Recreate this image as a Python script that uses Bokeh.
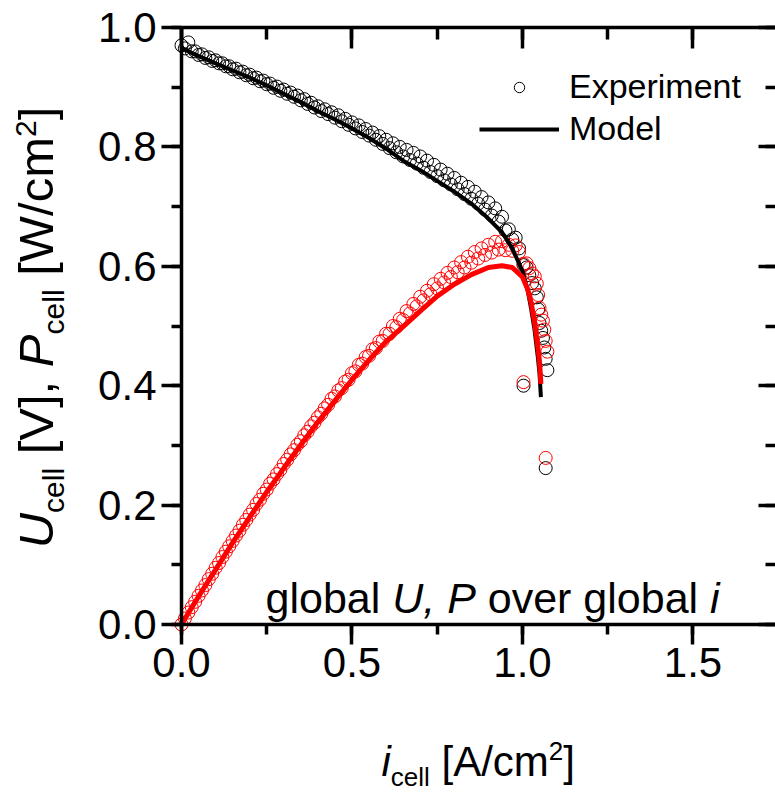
import math
from bokeh.plotting import figure
from bokeh.models import (Range1d, LinearAxis, SingleIntervalTicker, NumeralTickFormatter,
                          CustomJSTickFormatter, Label, Legend, LegendItem)
from bokeh.embed import file_html
from bokeh.resources import INLINE

# ---------------- data ----------------
i_exp = [0.00, 0.01, 0.02, 0.03, 0.04, 0.05, 0.06, 0.07, 0.08, 0.09,
         0.10, 0.11, 0.12, 0.13, 0.14, 0.15, 0.16, 0.17, 0.18, 0.19,
         0.20, 0.21, 0.22, 0.23, 0.24, 0.25, 0.26, 0.27, 0.28, 0.29,
         0.30, 0.31, 0.32, 0.33, 0.34, 0.35, 0.36, 0.37, 0.38, 0.39,
         0.40, 0.41, 0.42, 0.43, 0.44, 0.45, 0.46, 0.47, 0.48, 0.49,
         0.50, 0.51, 0.52, 0.53, 0.54, 0.55, 0.56, 0.57, 0.58, 0.59,
         0.60, 0.61, 0.62, 0.63, 0.64, 0.65, 0.66, 0.67, 0.68, 0.69,
         0.70, 0.71, 0.72, 0.73, 0.74, 0.75, 0.76, 0.77, 0.78, 0.79,
         0.80, 0.81, 0.82, 0.83, 0.84, 0.85, 0.86, 0.87, 0.88, 0.89,
         0.90, 0.91, 0.92, 0.93, 0.94, 0.95, 0.96, 0.97, 0.98, 0.99,
         1.003, 1.012, 1.020, 1.028, 1.036, 1.042, 1.046, 1.050, 1.055, 1.060,
         1.064, 1.068, 1.073, 1.003, 1.068]

U_exp = [0.970, 0.965, 0.975, 0.960, 0.960, 0.954, 0.955, 0.949, 0.950, 0.944,
         0.945, 0.940, 0.940, 0.935, 0.935, 0.930, 0.931, 0.925, 0.926, 0.920,
         0.921, 0.915, 0.916, 0.910, 0.911, 0.905, 0.906, 0.899, 0.901, 0.894,
         0.896, 0.889, 0.891, 0.884, 0.886, 0.878, 0.880, 0.872, 0.874, 0.866,
         0.868, 0.860, 0.863, 0.855, 0.858, 0.849, 0.853, 0.843, 0.847, 0.837,
         0.841, 0.831, 0.836, 0.825, 0.830, 0.819, 0.824, 0.812, 0.818, 0.805,
         0.812, 0.798, 0.806, 0.791, 0.800, 0.784, 0.795, 0.778, 0.790, 0.772,
         0.784, 0.765, 0.777, 0.758, 0.770, 0.751, 0.762, 0.744, 0.755, 0.737,
         0.748, 0.729, 0.740, 0.721, 0.733, 0.713, 0.725, 0.705, 0.716, 0.695,
         0.707, 0.685, 0.697, 0.675, 0.683, 0.660, 0.662, 0.645, 0.648, 0.630,
         0.602, 0.598, 0.585, 0.572, 0.563, 0.548, 0.528, 0.505, 0.492, 0.480,
         0.464, 0.445, 0.426, 0.400, 0.262]

P_exp = [0.000, 0.010, 0.020, 0.029, 0.038, 0.048, 0.057, 0.066, 0.076, 0.085,
         0.095, 0.103, 0.113, 0.122, 0.131, 0.140, 0.149, 0.157, 0.167, 0.175,
         0.184, 0.192, 0.202, 0.209, 0.219, 0.226, 0.236, 0.243, 0.252, 0.259,
         0.269, 0.276, 0.285, 0.292, 0.301, 0.307, 0.317, 0.323, 0.332, 0.338,
         0.347, 0.353, 0.362, 0.368, 0.378, 0.382, 0.392, 0.396, 0.407, 0.410,
         0.421, 0.424, 0.435, 0.437, 0.448, 0.450, 0.461, 0.463, 0.474, 0.475,
         0.487, 0.487, 0.500, 0.498, 0.512, 0.510, 0.525, 0.521, 0.537, 0.533,
         0.549, 0.543, 0.559, 0.553, 0.570, 0.563, 0.579, 0.573, 0.589, 0.582,
         0.598, 0.590, 0.607, 0.598, 0.616, 0.606, 0.624, 0.613, 0.630, 0.619,
         0.636, 0.623, 0.641, 0.628, 0.642, 0.627, 0.636, 0.626, 0.635, 0.624,
         0.604, 0.605, 0.597, 0.588, 0.583, 0.571, 0.552, 0.530, 0.519, 0.509,
         0.494, 0.475, 0.457, 0.406, 0.279]

i_model = [0.00, 0.02, 0.05, 0.10, 0.15, 0.20, 0.25, 0.30, 0.35, 0.40,
           0.45, 0.50, 0.55, 0.60, 0.65, 0.70, 0.75, 0.80, 0.85, 0.90,
           0.94, 0.97, 1.00, 1.015, 1.025, 1.035, 1.045, 1.050, 1.054]
U_model = [0.966, 0.960, 0.952, 0.940, 0.928, 0.916, 0.903, 0.889, 0.875, 0.860,
           0.846, 0.831, 0.815, 0.797, 0.777, 0.761, 0.743, 0.725, 0.705, 0.680,
           0.657, 0.630, 0.592, 0.560, 0.530, 0.495, 0.448, 0.420, 0.381]
P_model = [0.000, 0.019, 0.047, 0.092, 0.137, 0.180, 0.222, 0.262, 0.301, 0.339,
           0.375, 0.410, 0.443, 0.474, 0.499, 0.525, 0.550, 0.570, 0.586, 0.598,
           0.601, 0.598, 0.582, 0.562, 0.540, 0.508, 0.465, 0.440, 0.403]

x_ticks_interval = 0.5
y_ticks_interval = 0.2
X_MAX = 1.742
Y_MAX = 1.0

# ---------------- figure ----------------
# The frame covers the whole canvas so that the composed titles outside the
# axes are not clipped; axes are pinned with fixed_location.
W, H = 775, 793
PX_L, PX_B, PX_T = 181, 169, 27          # axes box offsets in px
sx = (W - PX_L) / X_MAX                  # px per x unit
sy = (H - PX_B - PX_T) / Y_MAX           # px per y unit
FONT = "Liberation Sans"
p = figure(width=W, height=H,
           x_range=Range1d(-PX_L / sx, X_MAX),
           y_range=Range1d(-PX_B / sy, Y_MAX + PX_T / sy),
           output_backend="svg", toolbar_location=None,
           x_axis_location=None, y_axis_location=None,
           min_border=0)
p.outline_line_color = None
p.grid.visible = False
p.background_fill_color = "white"
p.border_fill_color = "white"

AXW = 3.5


def make_axis(interval, shown, loc, bounds, tick_out, tick_in, mtick_out, mtick_in, standoff=5):
    ax = LinearAxis(ticker=SingleIntervalTicker(interval=interval, num_minor_ticks=2),
                    fixed_location=loc, bounds=bounds)
    ax.axis_line_width = AXW
    ax.axis_line_color = "black"
    ax.major_tick_line_width = AXW
    ax.minor_tick_line_width = AXW
    ax.major_tick_line_color = "black"
    ax.minor_tick_line_color = "black"
    ax.major_tick_out = tick_out
    ax.major_tick_in = tick_in
    ax.minor_tick_out = mtick_out
    ax.minor_tick_in = mtick_in
    if shown:
        ax.formatter = NumeralTickFormatter(format="0.0")
        ax.major_label_text_font = FONT
        ax.major_label_text_font_size = "42px"
        ax.major_label_text_color = "black"
        ax.major_label_standoff = standoff
    else:
        ax.formatter = CustomJSTickFormatter(code="return ''")
        ax.major_label_text_font_size = "1px"
        ax.major_label_standoff = 0
    return ax


bottom = make_axis(x_ticks_interval, True, 0, (0, X_MAX), 20, 0, 10, 0, standoff=3)
left = make_axis(y_ticks_interval, True, 0, (0, Y_MAX), 20, 0, 10, 0, standoff=5)
top = make_axis(x_ticks_interval, False, Y_MAX, (0, X_MAX), 0, 21, 0, 12)
right = make_axis(y_ticks_interval, False, X_MAX, (0, Y_MAX), 0, 17, 0, 10)
right.axis_line_color = None
p.add_layout(bottom, "below")
p.add_layout(left, "left")
p.add_layout(top, "above")
p.add_layout(right, "right")

# ---------------- data marks ----------------
r_u = p.scatter(i_exp, U_exp, marker="circle", size=13, fill_color=None,
                line_color="black", line_width=1)
r_p = p.scatter(i_exp, P_exp, marker="circle", size=13, fill_color=None,
                line_color="red", line_width=1)
r_um = p.line(i_model, U_model, line_color="black", line_width=4)
r_pm = p.line(i_model, P_model, line_color="red", line_width=5)

legend = Legend(items=[LegendItem(label="Experiment", renderers=[r_u]),
                       LegendItem(label="Model", renderers=[r_um])],
                location=(479, 645), glyph_width=80, glyph_height=26,
                label_standoff=10, padding=10, spacing=3,
                border_line_color=None, background_fill_alpha=0,
                label_text_font=FONT, label_text_font_size="34px",
                label_text_color="black")
p.add_layout(legend)

# ---------------- rich text labels ----------------
ADV = {' ': 278, '[': 278, ']': 278, ',': 278, '/': 278, 'A': 667, 'P': 667,
       'U': 722, 'V': 667, 'W': 944, 'a': 556, 'b': 556, 'c': 500, 'e': 556,
       'g': 556, 'i': 222, 'l': 222, 'm': 833, 'o': 556, 'r': 333, 'v': 500,
       '2': 556}
DESC = 0.21


def tw(s, size):
    return sum(ADV.get(c, 556) for c in s) / 1000.0 * size


def rich(pieces, x, y, vertical=False, center=False):
    """x, y: baseline start in canvas px (x right, y up from canvas bottom).
    With center=True the run is centred on (x, y) along its direction."""
    total = sum(tw(t, s) for t, s, _, _ in pieces)
    pos = -total / 2 if center else 0.0
    for text, size, italic, shift in pieces:
        stripped = text.lstrip(" ")
        lead = tw(text[:len(text) - len(stripped)], size)
        stripped = stripped.rstrip(" ")
        if stripped:
            if vertical:
                lx, ly, ang = x + shift + DESC * size, y + pos + lead, math.pi / 2
            else:
                lx, ly, ang = x + pos + lead, y - shift - DESC * size, 0
            p.add_layout(Label(x=lx, y=ly, x_units="screen", y_units="screen",
                               text=stripped, angle=ang,
                               text_font=FONT, text_font_size=f"{size}px",
                               text_font_style="italic" if italic else "normal",
                               text_align="left", text_baseline="bottom",
                               text_color="black"))
        pos += tw(text, size)


F_T, S_T = 42, 26
rich([("i", F_T, True, 0), ("cell", S_T, False, 10), (" [A/cm", F_T, False, 0),
      ("2", S_T, False, -22), ("]", F_T, False, 0)], x=381, y=H - 776)

F_Y, S_Y = 49, 30
rich([("U", F_Y, True, 0), ("cell", S_Y, False, 11), (" [V], ", F_Y, False, 0),
      ("P", F_Y, True, 0), ("cell", S_Y, False, 11), (" [W/cm", F_Y, False, 0),
      ("2", S_Y, False, -23), ("]", F_Y, False, 0)],
     x=52, y=H - 327, vertical=True, center=True)

F_G = 43
rich([("global ", F_G, False, 0), ("U,", F_G, True, 0),
      (" P", F_G, True, 0), (" over global ", F_G, False, 0), ("i", F_G, True, 0)],
     x=265, y=H - 612)

open("out.html", "w").write(file_html(p, INLINE))
